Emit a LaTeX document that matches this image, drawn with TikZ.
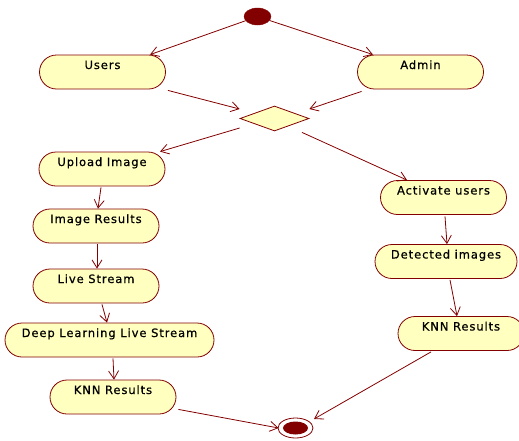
\documentclass[tikz,border=0pt]{standalone}
\usepackage{fontspec}
\newfontfamily\umlfont[LetterSpace=8,FakeBold=0.6]{DejaVu Sans}
\usetikzlibrary{shapes.geometric,arrows.meta,calc}
\definecolor{umlred}{HTML}{820000}
\definecolor{umlfill}{HTML}{FFFFC0}
\begin{document}
\begin{tikzpicture}[x=1pt,y=-1pt,
  act/.style={draw=umlred, fill=umlfill, line width=0.8pt, rounded corners=17pt,
    minimum height=34pt, minimum width=126pt, inner sep=0pt,
    text height=14pt, text depth=20pt, font=\umlfont\fontsize{11.5}{13}\selectfont},
  flow/.style={draw=umlred, line width=0.8pt, -{Straight Barb[length=8pt,width=10pt]}}]
\useasboundingbox (0,0) rectangle (519,440);
\node[ellipse, fill=umlred, draw=umlred, minimum width=27pt, minimum height=17pt, inner sep=0pt] (start) at (257.5,16.5) {};
\node[act] (users) at (102.5,72) {Users};
\node[act] (admin) at (420.5,72) {Admin};
\node[diamond, draw=umlred, fill=umlfill, line width=0.8pt, minimum width=69pt, minimum height=25pt, inner sep=0pt] (dia) at (274.5,118.5) {};
\node[act] (upload) at (102,169) {Upload Image};
\node[act] (imgres) at (96,226) {Image Results};
\node[act] (live) at (96,286) {Live Stream};
\node[act, minimum width=209pt] (dl) at (109.5,340) {Deep Learning Live Stream};
\node[act] (knnl) at (113,397) {KNN Results};
\node[act] (activ) at (443.5,197.5) {Activate users};
\node[act, minimum width=142pt] (detect) at (446,261.5) {Detected images};
\node[act] (knnr) at (461,333.5) {KNN Results};
\node[ellipse, draw=umlred, fill=white, line width=0.8pt, minimum width=35pt, minimum height=20pt, inner sep=0pt] (end) at (295.5,428) {};
\node[ellipse, fill=umlred, minimum width=25pt, minimum height=13pt, inner sep=0pt] (endin) at (end.center) {};
\draw[flow] (start) -- ($(users.north)+(47.5,0)$);
\draw[flow] (start) -- ($(admin.north)+(-47.5,0)$);
\draw[flow] ($(users.south east)+(2,1)$) -- ($(dia.west)+(0,-9.5)$);
\draw[flow] ($(admin.south west)+(4.5,2)$) -- ($(dia.east)+(0,-9.5)$);
\draw[flow] ($(dia.west)+(0,9.5)$) -- ($(upload.north)+(58,0)$);
\draw[flow] ($(dia.south)+(27.5,1)$) -- ($(activ.north)+(-36.5,0)$);
\draw[flow] ($(upload.south)+(-1,1)$) -- ($(imgres.north)+(2,0)$);
\draw[flow] ($(imgres.south)+(1,1)$) -- ($(live.north)+(1,0)$);
\draw[flow] ($(live.south)+(6,1)$) -- ($(dl.north)+(-2.5,0)$);
\draw[flow] ($(dl.south)+(3.5,1)$) -- ($(knnl.north)+(1,0)$);
\draw[flow] ($(knnl.south east)+(2,-5)$) -- ($(end.west)+(1,0)$);
\draw[flow] ($(activ.south)+(1.5,1.5)$) -- ($(detect.north)+(1,0)$);
\draw[flow] ($(detect.south)+(4,1)$) -- ($(knnr.north)+(-4,0)$);
\draw[flow] ($(knnr.south)+(-30,1)$) -- ($(end)+(18.5,-9)$);
\end{tikzpicture}
\end{document}
